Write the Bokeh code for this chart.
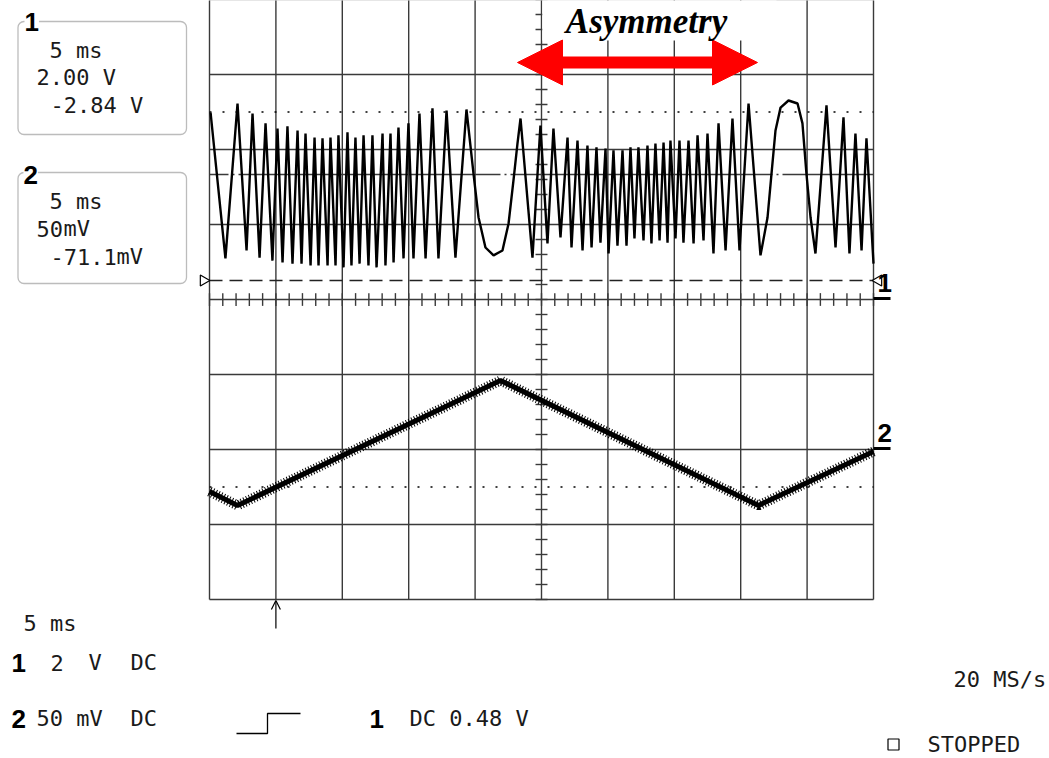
import numpy as np
from bokeh.plotting import figure
from bokeh.models import Range1d, Label, BoxAnnotation, Arrow, NormalHead, OpenHead
from bokeh.embed import file_html
from bokeh.resources import INLINE

# Channel 1: turning points of the interference signal, time in ms, level in V
ch1_t = [0.08, 1.20, 2.11, 2.79, 3.24, 3.77, 4.22, 4.74, 5.12, 5.50, 5.87, 6.25, 6.63, 6.93,
         7.23, 7.61, 7.91, 8.21, 8.51, 8.89, 9.11, 9.49, 9.71, 10.09, 10.39, 10.69, 10.99,
         11.30, 11.60, 11.97, 12.27, 12.58, 13.03, 13.25, 13.63, 13.86, 14.23, 14.61, 14.98,
         15.36, 15.81, 16.27, 16.79, 17.24, 17.85, 18.52, 19.35, 19.88, 20.26, 20.78, 21.39,
         22.06, 22.52, 22.89, 23.19, 23.42, 24.32, 24.92, 25.45, 25.90, 26.43, 26.96, 27.26,
         27.71, 28.09, 28.46, 28.77, 29.14, 29.44, 29.82, 30.05, 30.42, 30.72, 31.10, 31.40,
         31.70, 32.00, 32.30, 32.68, 32.98, 33.28, 33.58, 33.89, 34.19, 34.49, 34.71, 35.09,
         35.39, 35.69, 36.07, 36.45, 36.75, 37.20, 37.50, 37.95, 38.33, 38.86, 39.38, 39.91,
         40.59, 41.49, 42.02, 42.32, 42.62, 43.00, 43.60, 44.28, 44.65, 44.95, 45.26, 45.63,
         46.46, 47.14, 47.74, 48.19, 48.64, 49.10, 49.47, 50.00]
ch1_v = [4.48, 0.59, 4.72, 0.80, 4.45, 0.61, 4.19, 0.53, 4.05, 0.48, 4.11, 0.45, 4.00, 0.45,
         3.92, 0.40, 3.81, 0.40, 3.79, 0.40, 3.81, 0.40, 3.87, 0.35, 3.95, 0.40, 3.81,
         0.45, 3.87, 0.40, 3.87, 0.35, 3.92, 0.40, 3.92, 0.48, 4.08, 0.59, 4.19,
         0.59, 4.45, 0.59, 4.59, 0.59, 4.53, 0.61, 4.56, 2.85, 1.68, 0.88, 0.67,
         0.80, 1.52, 2.67, 3.65, 4.32, 0.61, 4.13, 0.99, 4.05, 1.15, 3.81, 0.88,
         3.73, 0.80, 3.60, 0.88, 3.55, 1.01, 3.52, 0.72, 3.47, 0.93, 3.47, 0.93,
         3.55, 1.12, 3.55, 1.07, 3.60, 0.99, 3.65, 1.07, 3.68, 1.01, 3.73, 1.12,
         3.73, 1.01, 3.73, 0.99, 3.87, 1.07, 3.92, 0.72, 4.19, 0.80, 4.32, 0.80,
         4.72, 0.67, 1.68, 2.85, 4.00, 4.61, 4.80, 4.72, 4.19, 2.85, 1.68, 0.72,
         4.67, 0.88, 4.35, 0.72, 3.92, 0.80, 3.79, 0.45]

# Channel 2: triangle sweep corners, time in ms, level in mV
ch2_t = [0.0, 2.11, 21.91, 41.34, 50.0]
ch2_mv = [-28.0, -37.3, 46.0, -37.3, -1.3]

ms_per_div = 5
ch1_v_per_div = 2
ch2_mv_per_div = 50
n_xdiv, n_ydiv = 10, 8

# ---------------- screen geometry ----------------
W, H = 1049, 758
PX_L, PX_DIV = 209.0, 66.4      # grid left edge, pixels per division (x)
PY_B, PY_DIV = 599.0, 75.0      # grid bottom edge, pixels per division (y)


def tx(px):
    return (px - PX_L) / PX_DIV * ms_per_div


def dy(py):
    return (PY_B - py) / PY_DIV


ch1_gnd_div = dy(280)
ch2_gnd_div = 2.0

p = figure(width=W, height=H, output_backend="svg", toolbar_location=None,
           x_axis_type=None, y_axis_type=None, min_border=0,
           x_range=Range1d(tx(0), tx(W)), y_range=Range1d(dy(H), dy(0)))
p.outline_line_color = None
p.background_fill_color = "white"
p.border_fill_color = "white"
p.extra_y_ranges = {
    "ch1": Range1d((dy(H) - ch1_gnd_div) * ch1_v_per_div, (dy(0) - ch1_gnd_div) * ch1_v_per_div),
    "ch2": Range1d((dy(H) - ch2_gnd_div) * ch2_mv_per_div, (dy(0) - ch2_gnd_div) * ch2_mv_per_div),
}

GRID = "#3a3a3a"
X_END = n_xdiv * ms_per_div

# graticule
vx = [i * ms_per_div for i in range(n_xdiv + 1)]
p.segment(x0=vx, y0=[0] * len(vx), x1=vx, y1=[n_ydiv] * len(vx), line_color=GRID, line_width=1.4)
hy = list(range(n_ydiv + 1))
p.segment(x0=[0] * len(hy), y0=hy, x1=[X_END] * len(hy), y1=hy, line_color=GRID, line_width=1.4)

# centre-axis minor ticks
ty = np.arange(0, n_ydiv + 0.001, 0.2)
p.segment(x0=[X_END / 2 - 0.45] * len(ty), y0=ty, x1=[X_END / 2 + 0.45] * len(ty), y1=ty,
          line_color=GRID, line_width=1.4)
txs = np.arange(0, X_END + 0.001, ms_per_div / 5)
p.segment(x0=txs, y0=[n_ydiv / 2 - 0.085] * len(txs), x1=txs, y1=[n_ydiv / 2 + 0.085] * len(txs),
          line_color=GRID, line_width=1.4)

# cursor / level lines
p.line([0, X_END], [6.5, 6.5], line_color="black", line_width=1.5, line_dash="2 11")
p.line([0, X_END], [1.5, 1.5], line_color="black", line_width=1.5, line_dash="2 11")
p.line([0, X_END], [dy(174), dy(174)], line_color=GRID, line_width=1.4,
       line_dash="262 4 2 4", line_dash_offset=243)
p.line([0, X_END], [0, 0], y_range_name="ch1", line_color="#222222", line_width=1.3,
       line_dash="13 7")

# traces
p.line(ch2_t, ch2_mv, y_range_name="ch2", line_color="black", line_width=5)
p.line(ch2_t, ch2_mv, y_range_name="ch2", line_color="black", line_width=10, line_dash="1 2")
p.line(ch1_t, ch1_v, y_range_name="ch1", line_color="black", line_width=2.4)

# ground markers for channel 1
p.scatter([tx(203)], [0], y_range_name="ch1", marker="triangle", size=11, angle=-np.pi / 2,
          fill_color="white", line_color="black", line_width=1.2)
p.scatter([tx(878)], [0], y_range_name="ch1", marker="triangle", size=11, angle=np.pi / 2,
          fill_color="white", line_color="black", line_width=1.2)
p.segment(x0=[X_END, X_END], y0=[dy(298), dy(448)], x1=[tx(890), tx(890)], y1=[dy(298), dy(448)],
          line_color="black", line_width=3)

# trigger step symbol and stop square
p.line([tx(236), tx(267), tx(267), tx(300)], [dy(733), dy(733), dy(713), dy(713)],
       line_color="black", line_width=1.3)
p.scatter([tx(893)], [dy(744)], marker="square", size=11, fill_color=None,
          line_color="black", line_width=1.2)

# title area with arrow
p.add_layout(BoxAnnotation(left=tx(541.8), right=tx(776), bottom=dy(40), top=dy(-10),
                           fill_color="white", fill_alpha=1, line_color=None))
p.add_layout(Arrow(start=NormalHead(size=45, fill_color="red", line_color="red"),
                   end=NormalHead(size=45, fill_color="red", line_color="red"),
                   x_start=tx(517), y_start=dy(62), x_end=tx(757), y_end=dy(62),
                   line_color="red", line_width=12))
p.add_layout(Label(x=tx(646), y=dy(1), text="Asymmetry", text_font="Liberation Serif",
                   text_font_style="bold italic", text_font_size="35px", text_color="black",
                   text_align="center", text_baseline="top"))

# trigger arrow under the graticule
p.add_layout(Arrow(end=OpenHead(size=9, line_width=1.2), x_start=ms_per_div, y_start=dy(628),
                   x_end=ms_per_div, y_end=dy(600), line_width=1.2, line_color="black"))

TXT = "#1a1a1a"


def mono(text, px, py):
    p.add_layout(Label(x=tx(px), y=dy(py), text=text, text_font="DejaVu Sans Mono",
                       text_font_size="22px", text_color=TXT, text_baseline="middle",
                       text_align="left"))


def bold(text, px, py, bg=None):
    p.add_layout(Label(x=tx(px), y=dy(py), text=text, text_font="Liberation Sans",
                       text_font_style="bold", text_font_size="26px", text_color="black",
                       text_baseline="middle", text_align="left",
                       background_fill_color=bg))


# info boxes
for top, bot in [(21, 134), (172, 283)]:
    p.add_layout(BoxAnnotation(left=tx(17.5), right=tx(186), top=dy(top), bottom=dy(bot),
                               fill_alpha=0, line_color="#222222", line_width=1.3,
                               border_radius=6))
bold("1", 24, 21, bg="white")
mono("5 ms", 49, 50)
mono("2.00 V", 36, 77)
mono("-2.84 V", 50, 105)
bold("2", 23, 174, bg="white")
mono("5 ms", 49, 201)
mono("50", 36, 228)
mono("mV", 63, 228)
mono("-71.1", 50, 256)
mono("mV", 116, 256)

# channel markers at the right
bold("1", 877, 282)
bold("2", 877, 432)

# bottom status lines
mono("5 ms", 23, 623)
bold("1", 11, 662)
mono("2", 50, 662)
mono("V", 88, 662)
mono("DC", 130, 662)
bold("2", 11, 718)
mono("50 mV", 36, 718)
mono("DC", 130, 718)
bold("1", 369, 718)
mono("DC 0.48 V", 409, 718)
mono("20 MS/s", 953, 679)
mono("STOPPED", 927, 744)

open("out.html", "w").write(file_html(p, INLINE))
